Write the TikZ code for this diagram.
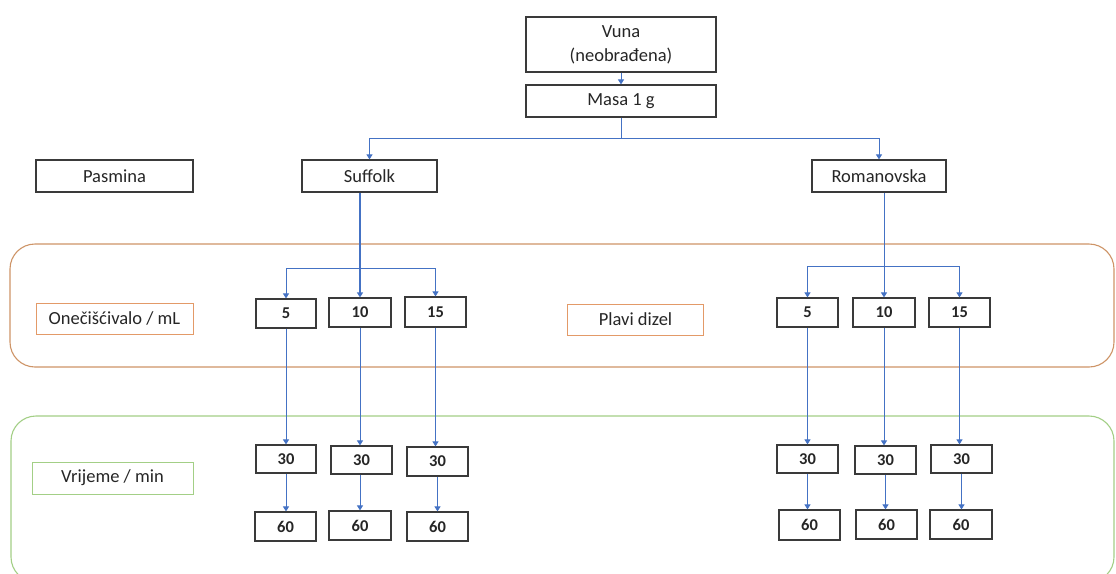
\documentclass[tikz,border=0pt]{standalone}
\usepackage{fontspec}
\setmainfont{Carlito}
\usetikzlibrary{arrows.meta}
\definecolor{conn}{HTML}{4472C4}
\definecolor{orng}{HTML}{CE9467}
\definecolor{orngbox}{HTML}{E39A68}
\definecolor{grn}{HTML}{A3CF86}
\definecolor{boxline}{HTML}{3A3A3A}
\definecolor{txt}{HTML}{262626}
\tikzset{
  box/.style={draw=boxline, line width=1.2pt, fill=white, inner sep=0pt, text=txt,
    font=\fontsize{18.5}{24}\selectfont, align=center},
  numbox/.style={box, font=\fontsize{16.5}{20}\selectfont\bfseries},
  obox/.style={box, draw=orngbox, line width=1pt},
  gbox/.style={box, draw=grn, line width=1pt},
  link/.style={draw=conn, line width=1pt},
  arr/.style={link, -{Triangle[width=6pt,length=5pt]}},
  region/.style={line width=1.1pt, rounded corners=25pt}
}
\begin{document}
\begin{tikzpicture}[x=1pt,y=-1pt]
\useasboundingbox (0,0) rectangle (1116,573);
\fill[white] (0,0) rectangle (1116,573);
% regions
\draw[region, draw=orng] (10,244) rectangle (1114,367);
\draw[region, draw=grn] (11,416) rectangle (1114,582);
% top
\node[box, minimum width=190pt, minimum height=55pt] (vuna) at (621,44.5) {Vuna\\(neobrađena)};
\node[box, minimum width=190pt, minimum height=32pt] (masa) at (621,101) {Masa 1 g};
\node[box, minimum width=157pt, minimum height=32pt] (pasmina) at (114.5,176) {Pasmina};
\node[box, minimum width=135pt, minimum height=32pt] (suffolk) at (369.5,176) {Suffolk};
\node[box, minimum width=134pt, minimum height=32pt] (roman) at (879,176) {Romanovska};
\node[obox, minimum width=157pt, minimum height=31pt] (onec) at (114.5,318.5) {Onečišćivalo / mL};
\node[obox, minimum width=136pt, minimum height=31pt] (plavi) at (635.5,319.5) {Plavi dizel};
\node[gbox, minimum width=161pt, minimum height=32pt] (vrij) at (112.5,478) {Vrijeme / min};
% contaminant volumes
\node[numbox, minimum width=60pt, minimum height=29pt] (a5) at (286,313.5) {5};
\node[numbox, minimum width=62pt, minimum height=29pt] (a10) at (360,312.5) {10};
\node[numbox, minimum width=61pt, minimum height=30pt] (a15) at (435.5,312) {15};
\node[numbox, minimum width=61pt, minimum height=29pt] (b5) at (807.5,312.5) {5};
\node[numbox, minimum width=62pt, minimum height=29pt] (b10) at (884,312.5) {10};
\node[numbox, minimum width=61pt, minimum height=29pt] (b15) at (959.5,312.5) {15};
% times 30
\node[numbox, minimum width=60pt, minimum height=28pt] (c1) at (286,459) {30};
\node[numbox, minimum width=61pt, minimum height=28pt] (c2) at (361.5,460) {30};
\node[numbox, minimum width=61pt, minimum height=29pt] (c3) at (437.5,461.5) {30};
\node[numbox, minimum width=61pt, minimum height=28pt] (d1) at (807.5,459) {30};
\node[numbox, minimum width=61pt, minimum height=28pt] (d2) at (885.5,460) {30};
\node[numbox, minimum width=61pt, minimum height=28pt] (d3) at (961.5,459) {30};
% times 60
\node[numbox, minimum width=61pt, minimum height=29pt] (e1) at (285.5,526.5) {60};
\node[numbox, minimum width=62pt, minimum height=29pt] (e2) at (360,525.5) {60};
\node[numbox, minimum width=61pt, minimum height=29pt] (e3) at (437.5,526.5) {60};
\node[numbox, minimum width=61pt, minimum height=30pt] (f1) at (809.5,525) {60};
\node[numbox, minimum width=61pt, minimum height=29pt] (f2) at (886.5,524.5) {60};
\node[numbox, minimum width=62pt, minimum height=29pt] (f3) at (961,524.5) {60};
% connectors top
\draw[arr] (vuna.south) -- (masa.north);
\coordinate (j1) at (621,138);
\draw[link] (masa.south) -- (j1);
\draw[arr] (j1) -| (suffolk.north);
\draw[arr] (j1) -| (roman.north);
% Suffolk branch
\coordinate (j2) at (360,268);
\draw[arr, line width=1.4pt] (a10.north |- suffolk.south) -- (a10.north);
\draw[arr] (j2) -| (a5.north);
\draw[arr] (j2) -| (a15.north);
% Romanovska branch
\coordinate (j3) at (884,266);
\draw[arr] (b10.north |- roman.south) -- (b10.north);
\draw[arr] (j3) -| (b5.north);
\draw[arr] (j3) -| (b15.north);
% volumes to 30
\draw[arr] (a5.south) -- (a5.south |- c1.north);
\draw[arr] (a10.south) -- (a10.south |- c2.north);
\draw[arr] (a15.south) -- (a15.south |- c3.north);
\draw[arr] (b5.south) -- (b5.south |- d1.north);
\draw[arr] (b10.south) -- (b10.south |- d2.north);
\draw[arr] (b15.south) -- (b15.south |- d3.north);
% 30 to 60
\draw[arr] (c1.south) -- (c1.south |- e1.north);
\draw[arr] (c2.south -| e2.north) -- (e2.north);
\draw[arr] (c3.south) -- (c3.south |- e3.north);
\draw[arr] (d1.south) -- (d1.south |- f1.north);
\draw[arr] (d2.south) -- (d2.south |- f2.north);
\draw[arr] (d3.south) -- (d3.south |- f3.north);
\end{tikzpicture}
\end{document}
